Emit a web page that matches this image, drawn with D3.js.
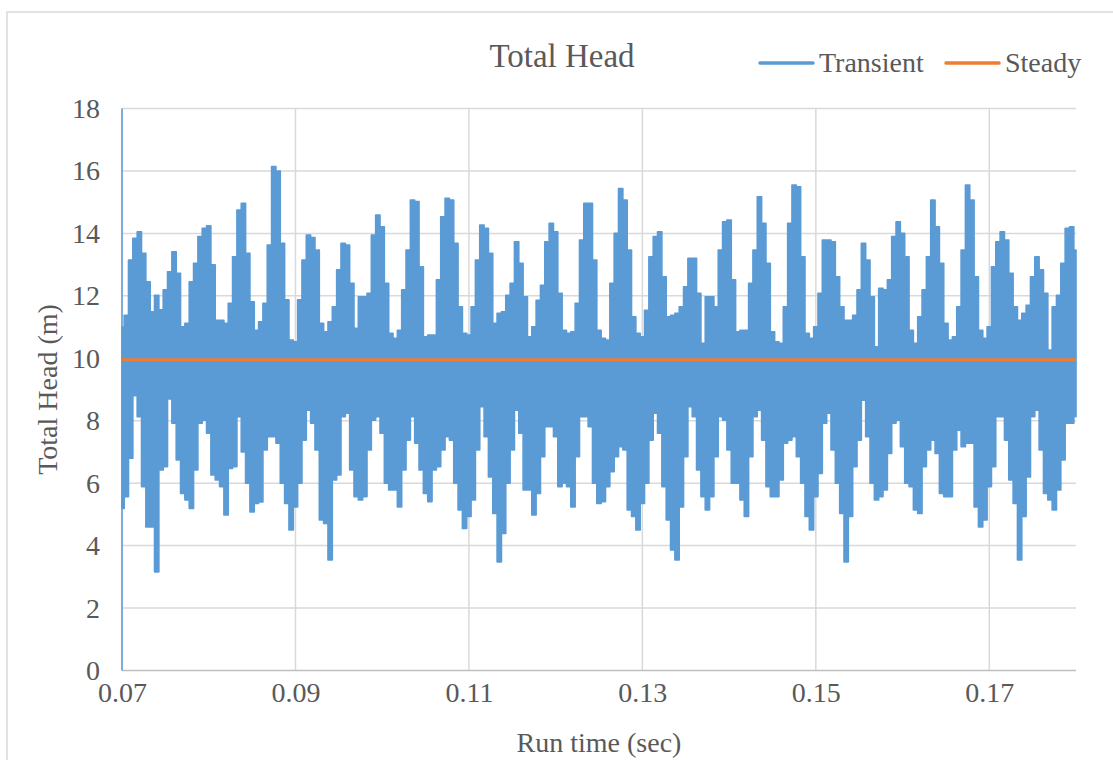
<!DOCTYPE html>
<html>
<head>
<meta charset="utf-8">
<script src="https://cdn.jsdelivr.net/npm/d3@7/dist/d3.min.js"></script>
<style>
  html, body { margin: 0; padding: 0; background: #fff; }
  svg { display: block; }
  text { font-family: "Liberation Serif", "Times New Roman", serif; fill: #595959; }
</style>
</head>
<body>
<svg id="chart" width="1113" height="760"></svg>
<script>
// Transient total head, sampled every 0.0005 s from 0.07 s: the upper and lower
// extremes of the fast oscillation within each sample window (m).
const sampleStart = 0.07;
const sampleStep = 0.0005;
const transientHigh = [
  11.0, 11.38, 13.15, 13.84, 14.05, 13.36, 12.45, 11.49, 12.02, 11.55,
  12.19, 12.77, 13.41, 12.72, 11.01, 11.12, 12.45, 13.04, 13.9, 14.16,
  14.24, 12.99, 11.22, 11.22, 11.12, 11.76, 13.25, 14.75, 14.96, 13.36,
  11.81, 10.9, 11.17, 11.76, 13.63, 16.14, 16.0, 13.68, 11.87, 10.58,
  10.53, 11.87, 13.15, 13.95, 13.87, 13.47, 11.12, 10.85, 11.17, 11.65,
  12.83, 13.68, 13.63, 12.4, 10.96, 11.97, 11.97, 12.08, 13.95, 14.59,
  14.21, 12.4, 10.8, 10.64, 10.9, 12.19, 13.47, 15.07, 15.02, 12.93,
  10.69, 10.74, 10.74, 12.51, 14.53, 15.12, 15.07, 13.68, 11.65, 10.8,
  10.74, 11.65, 13.15, 14.27, 14.16, 13.36, 11.12, 11.44, 11.49, 12.02,
  12.4, 13.73, 13.04, 11.97, 10.69, 11.01, 11.86, 12.34, 13.73, 14.32,
  14.05, 12.08, 10.9, 10.8, 10.85, 11.76, 13.79, 14.96, 14.96, 13.15,
  10.9, 10.64, 10.58, 12.4, 14.0, 15.44, 15.07, 13.47, 11.33, 10.8,
  10.69, 11.54, 13.25, 13.9, 14.05, 12.61, 11.33, 11.38, 11.44, 11.65,
  12.29, 13.2, 13.2, 12.08, 10.48, 11.97, 11.97, 11.65, 13.47, 14.37,
  14.43, 12.51, 10.85, 10.9, 10.9, 12.4, 13.47, 15.17, 14.32, 13.04,
  10.85, 10.53, 10.48, 11.65, 14.32, 15.55, 15.49, 13.25, 10.8, 10.64,
  11.01, 12.08, 13.79, 13.79, 13.73, 12.61, 11.65, 11.22, 11.22, 11.38,
  12.19, 13.68, 13.15, 11.97, 10.37, 12.24, 12.19, 12.51, 13.9, 14.37,
  14.0, 13.25, 10.9, 10.48, 11.33, 12.19, 13.25, 15.07, 14.21, 13.04,
  11.12, 10.58, 10.69, 11.65, 13.47, 15.55, 15.07, 12.61, 10.9, 10.64,
  11.01, 12.93, 13.73, 14.05, 13.79, 12.72, 11.65, 11.22, 11.44, 11.7,
  12.61, 13.25, 12.83, 12.08, 10.26, 11.65, 12.02, 13.04, 14.16, 14.21,
  13.47
];
const transientLow = [
  5.19, 5.57, 6.8, 8.8, 8.13, 5.89, 4.6, 4.6, 3.16, 6.42,
  6.53, 8.7, 7.92, 6.74, 5.67, 5.46, 5.19, 6.42, 7.92, 8.02,
  7.6, 6.26, 6.1, 5.89, 4.98, 6.47, 6.53, 8.13, 7.0, 6.0,
  5.08, 5.35, 5.4, 7.06, 7.49, 7.49, 7.28, 6.0, 5.35, 4.5,
  5.24, 6.0, 7.38, 8.34, 7.92, 7.06, 4.82, 4.71, 3.54, 6.1,
  6.26, 8.13, 8.24, 6.42, 5.57, 5.46, 5.57, 7.06, 8.02, 8.13,
  7.6, 6.0, 5.78, 5.78, 5.24, 6.42, 7.38, 8.13, 7.28, 6.42,
  5.67, 5.41, 6.42, 6.53, 7.06, 7.49, 7.38, 6.0, 5.14, 4.55,
  4.93, 5.46, 7.06, 8.45, 7.49, 6.2, 5.03, 3.48, 4.39, 6.0,
  7.06, 8.34, 7.6, 5.78, 5.78, 4.98, 5.67, 6.85, 7.81, 7.81,
  7.49, 5.89, 6.0, 5.89, 5.24, 6.85, 8.13, 8.13, 7.81, 6.0,
  5.35, 5.41, 5.89, 6.37, 6.85, 7.17, 7.06, 5.14, 4.93, 4.5,
  5.35, 6.0, 7.38, 8.24, 7.6, 5.89, 4.82, 3.86, 3.54, 5.24,
  6.85, 8.45, 8.13, 6.42, 5.57, 5.14, 5.57, 6.85, 8.13, 8.02,
  7.06, 6.0, 6.0, 5.46, 4.93, 6.85, 8.13, 8.34, 7.38, 5.89,
  5.57, 5.57, 6.1, 7.28, 7.38, 7.49, 6.85, 6.0, 4.93, 4.5,
  5.57, 6.31, 7.92, 8.24, 7.06, 6.0, 5.03, 3.48, 4.93, 6.53,
  7.38, 8.66, 7.49, 6.0, 5.46, 5.57, 5.78, 6.95, 7.92, 8.02,
  7.17, 6.0, 5.89, 5.14, 5.03, 6.53, 7.06, 7.38, 6.95, 5.67,
  5.57, 5.57, 7.06, 7.7, 7.17, 7.28, 7.28, 5.24, 4.6, 4.82,
  5.89, 6.53, 8.13, 8.13, 7.38, 6.1, 5.35, 3.54, 4.93, 6.2,
  8.13, 8.34, 7.06, 5.67, 5.46, 5.14, 5.78, 6.74, 7.92, 7.92,
  8.13
];
// Start-up jump of the transient run at t = 0.07 s
const startupTime = [0.07, 0.07];
const startupHead = [0, 18];

// Steady-state head
const steadyTime = [0.07, 0.18];
const steadyHead = [9.95, 9.95];

// Axis ticks
const xTicks = [0.07, 0.09, 0.11, 0.13, 0.15, 0.17];
const yTicks = [0, 2, 4, 6, 8, 10, 12, 14, 16, 18];

const seriesNames = ["Transient", "Steady"];
const seriesColors = ["#5B9BD5", "#ED7D31"];

const transient = transientHigh.map((h, i) => ({
  t: sampleStart + i * sampleStep,
  hi: h,
  lo: transientLow[i]
}));

const svg = d3.select("#chart");
const W = 1113, H = 760;
const plot = { left: 122, right: 1076, top: 108.5, bottom: 670.5 };

const x = d3.scaleLinear().domain([0.07, 0.18]).range([plot.left, plot.right]);
const y = d3.scaleLinear().domain([0, 18]).range([plot.bottom, plot.top]);

// Chart frame
svg.append("rect")
  .attr("x", 7).attr("y", 12)
  .attr("width", 1200).attr("height", 900)
  .attr("fill", "#fff")
  .attr("stroke", "#d9d9d9").attr("stroke-width", 1.5);

// Gridlines
svg.append("g").selectAll("line").data(yTicks.filter(v => v > 0)).join("line")
  .attr("x1", plot.left).attr("x2", plot.right)
  .attr("y1", d => y(d)).attr("y2", d => y(d))
  .attr("stroke", "#d9d9d9").attr("stroke-width", 1.5);
svg.append("g").selectAll("line").data(xTicks).join("line")
  .attr("x1", d => x(d)).attr("x2", d => x(d))
  .attr("y1", plot.top).attr("y2", plot.bottom)
  .attr("stroke", "#d9d9d9").attr("stroke-width", 1.5);

// Horizontal axis line
svg.append("line")
  .attr("x1", plot.left).attr("x2", plot.right)
  .attr("y1", y(0)).attr("y2", y(0))
  .attr("stroke", "#bfbfbf").attr("stroke-width", 1.5);

// Axes (labels only)
const yAxis = svg.append("g")
  .attr("transform", `translate(${plot.left},0)`)
  .call(d3.axisLeft(y).tickValues(yTicks).tickSize(0).tickPadding(22).tickFormat(d3.format("d")));
yAxis.select(".domain").remove();
yAxis.selectAll("text").style("font-size", "28px").attr("fill", "#595959");

const xAxis = svg.append("g")
  .attr("transform", `translate(0,${plot.bottom})`)
  .call(d3.axisBottom(x).tickValues(xTicks).tickSize(0).tickPadding(12).tickFormat(d3.format(".2f")));
xAxis.select(".domain").remove();
xAxis.selectAll("text").style("font-size", "28px").attr("fill", "#595959");

// Clip to plot area
svg.append("clipPath").attr("id", "plotClip")
  .append("rect")
  .attr("x", plot.left - 1).attr("y", plot.top - 1)
  .attr("width", plot.right - plot.left + 2).attr("height", plot.bottom - plot.top + 2);

const marks = svg.append("g").attr("clip-path", "url(#plotClip)");

// Transient: the dense oscillation fills the band between its extremes
const band = d3.area()
  .x(d => x(d.t))
  .y0(d => y(d.lo))
  .y1(d => y(d.hi))
  .curve(d3.curveStep);
marks.append("path")
  .datum(transient)
  .attr("d", band)
  .attr("fill", seriesColors[0])
  .attr("stroke", seriesColors[0])
  .attr("stroke-width", 1.6)
  .attr("stroke-linejoin", "round");

const line = d3.line().x(d => x(d[0])).y(d => y(d[1]));
marks.append("path")
  .datum(startupTime.map((t, i) => [t, startupHead[i]]))
  .attr("d", line)
  .attr("fill", "none")
  .attr("stroke", seriesColors[0])
  .attr("stroke-width", 1.5);

// Steady
marks.append("path")
  .datum(steadyTime.map((t, i) => [t, steadyHead[i]]))
  .attr("d", line)
  .attr("fill", "none")
  .attr("stroke", seriesColors[1])
  .attr("stroke-width", 3);

// Title
svg.append("text")
  .attr("x", 562).attr("y", 67)
  .attr("text-anchor", "middle")
  .style("font-size", "33px")
  .text("Total Head");

// Axis titles
svg.append("text")
  .attr("x", (plot.left + plot.right) / 2).attr("y", 752)
  .attr("text-anchor", "middle")
  .style("font-size", "28px")
  .text("Run time (sec)");
svg.append("text")
  .attr("transform", `translate(47,${(plot.top + plot.bottom) / 2}) rotate(-90)`)
  .attr("text-anchor", "middle")
  .attr("dy", "0.35em")
  .style("font-size", "28px")
  .text("Total Head (m)");

// Legend
const legendX = [760, 946];
const legend = svg.append("g");
seriesNames.forEach((name, i) => {
  legend.append("line")
    .attr("x1", legendX[i]).attr("x2", legendX[i] + 53)
    .attr("y1", 63).attr("y2", 63)
    .attr("stroke", seriesColors[i]).attr("stroke-width", 3.5)
    .attr("stroke-linecap", "round");
  legend.append("text")
    .attr("x", legendX[i] + 59).attr("y", 72)
    .style("font-size", "28px")
    .text(name);
});
</script>
</body>
</html>
